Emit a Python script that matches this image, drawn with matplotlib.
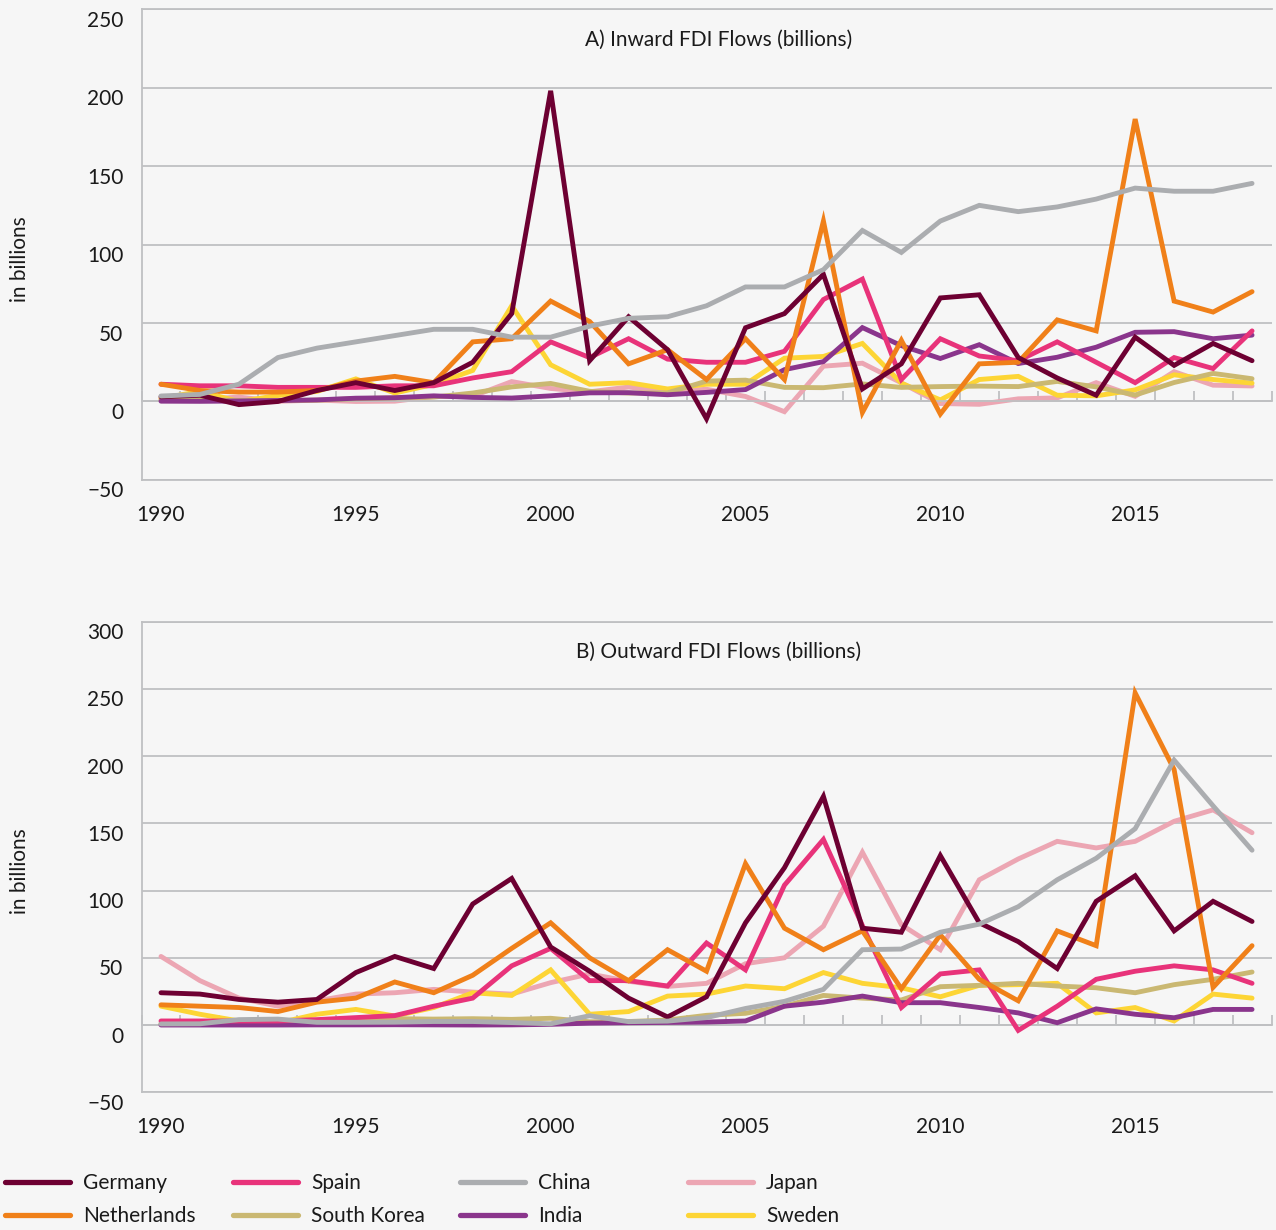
import matplotlib.pyplot as plt
import matplotlib.transforms as mtransforms
import numpy as np

plt.rcParams['font.family'] = ['Lato', 'DejaVu Sans']
plt.rcParams['font.size'] = 15
plt.rcParams['text.color'] = '#1a1a1a'
plt.rcParams['axes.labelcolor'] = '#1a1a1a'
plt.rcParams['xtick.color'] = '#1a1a1a'
plt.rcParams['ytick.color'] = '#1a1a1a'

years = np.arange(1990, 2019)
countries = ['Germany', 'Netherlands', 'Spain', 'South Korea', 'China', 'India', 'Japan', 'Sweden']

# A) inward FDI flows, billions
germany_in = [3, 4, -2, 0, 7, 12, 7, 12, 25, 56, 198, 26, 54, 33, -11, 47, 56, 81, 8, 24, 66, 68, 28, 15, 4, 41, 23, 37, 26]
netherlands_in = [11, 7, 6, 6, 7, 13, 16, 12, 38, 40, 64, 51, 24, 33, 14, 40, 14, 115, -7, 39, -8, 24, 25, 52, 45, 180, 64, 57, 70]
spain_in = [11, 10, 10, 9, 9, 9, 10, 10, 15, 19, 38, 28, 40, 27, 25, 25, 32, 65, 78, 14, 40, 29, 26, 38, 25, 12, 28, 21, 45]
skorea_in = [0.8, 1.2, 0.7, 0.6, 0.8, 1.8, 2.3, 2.8, 5.4, 9.3, 11.5, 6.5, 5.4, 5.5, 13.0, 13.6, 9.0, 8.8, 11.2, 9.0, 9.5, 9.8, 9.5, 12.8, 9.3, 4.1, 12.1, 17.9, 14.5]
china_in = [3.5, 4.5, 11, 28, 34, 38, 42, 46, 46, 41, 41, 48, 53, 54, 61, 73, 73, 84, 109, 95, 115, 125, 121, 124, 129, 136, 134, 134, 139]
india_in = [0.2, 0.1, 0.3, 0.6, 1.0, 2.1, 2.4, 3.6, 2.6, 2.2, 3.6, 5.5, 5.6, 4.3, 5.8, 7.6, 20.3, 25.4, 47.1, 35.6, 27.4, 36.2, 24.2, 28.2, 34.6, 44.1, 44.5, 40.0, 42.3]
japan_in = [1.8, 1.3, 2.8, 0.1, 0.9, 0.0, 0.2, 3.2, 3.3, 12.7, 8.3, 6.2, 9.2, 6.3, 7.8, 3.2, -6.5, 22.5, 24.4, 11.9, -1.3, -1.8, 1.7, 2.3, 12.0, 3.3, 19.0, 10.4, 9.9]
sweden_in = [2.0, 6.4, 0.0, 3.8, 6.4, 14.4, 5.4, 10.9, 19.8, 61.0, 23.4, 11.0, 12.0, 8.0, 11.0, 11.0, 27.6, 28.7, 37.0, 11.7, 1.0, 14.0, 16.0, 4.0, 3.6, 7.4, 17.0, 14.0, 11.7]

# B) outward FDI flows, billions
germany_out = [24, 23, 19, 17, 19, 39, 51, 42, 90, 109, 58, 40, 20, 6, 21, 76, 117, 170, 72, 69, 126, 76, 62, 42, 92, 111, 70, 92, 77]
netherlands_out = [15, 14, 13, 10, 17, 20, 32, 24, 37, 57, 76, 50, 33, 56, 40, 120, 72, 56, 70, 27, 67, 34, 18, 70, 59, 247, 190, 28, 59]
spain_out = [3, 3, 3, 3, 4, 5.5, 7, 14, 20, 44, 57, 33, 33, 29, 61, 41, 104, 138, 74, 13, 38, 41, -4, 14, 34, 40, 44, 41, 31]
skorea_out = [1.1, 1.5, 1.2, 1.3, 2.5, 3.6, 4.7, 4.4, 4.7, 4.2, 5.0, 2.4, 2.6, 3.7, 7.2, 8.7, 14, 22, 20, 18.6, 28.5, 29.5, 31, 29, 27.7, 24, 30, 34, 39.4]
china_out = [0.8, 0.9, 4.0, 4.4, 2.0, 2.0, 2.1, 2.6, 2.6, 1.8, 0.9, 6.9, 2.5, 2.9, 5.5, 12.3, 17.6, 26.5, 56, 56.5, 69, 75, 88, 108, 124, 146, 197, 163, 130]
india_out = [0.0, 0.0, 0.0, 0.0, 0.1, 0.1, 0.2, 0.1, 0.0, 0.1, 0.5, 1.4, 1.7, 1.9, 2.2, 3.0, 14, 17, 21.5, 16.6, 16.6, 13, 9, 1.7, 12, 8, 5.4, 11.6, 11.6]
japan_out = [51, 33, 20, 14, 18, 23, 24, 26.5, 24.5, 23, 31.5, 38, 32.5, 28.7, 31, 45.6, 50, 73.5, 128.5, 74.6, 56, 108, 123.5, 136.6, 131.7, 136.6, 151.5, 160, 143]
sweden_out = [14, 8, 3, 1.5, 8, 11.6, 6.7, 13, 24, 22, 41, 8, 10, 21.5, 23, 29, 27, 39, 31, 27.7, 21, 29.5, 30, 31, 9, 13, 3, 23, 20]

inward = [germany_in, netherlands_in, spain_in, skorea_in, china_in, india_in, japan_in, sweden_in]
outward = [germany_out, netherlands_out, spain_out, skorea_out, china_out, india_out, japan_out, sweden_out]

colors = ['#6d0032', '#f08019', '#e8337a', '#cab872', '#abadb0', '#8a358c', '#eca6b3', '#fdd535']
zorders = [7, 6, 5, 3, 8, 4, 1, 2]

BG = '#f6f6f6'
GRID = '#bfc0c2'


def draw_panel(ax, series, ymin, ymax, title):
    ax.set_facecolor(BG)
    lines = []
    for name, vals, c, z in zip(countries, series, colors, zorders):
        ln, = ax.plot(years, vals, color=c, lw=3.5, label=name, zorder=z,
                      solid_capstyle='round', solid_joinstyle='miter')
        lines.append(ln)

    ax.set_xlim(1989.5, 2018.5)
    ax.set_ylim(ymin, ymax)
    ax.set_yticks(np.arange(ymin, ymax + 1, 50))
    ax.yaxis.grid(True, color=GRID, lw=1.3)
    ax.set_axisbelow(True)

    ax.spines['right'].set_visible(False)
    for s in ['top', 'left', 'bottom']:
        ax.spines[s].set_color(GRID)
        ax.spines[s].set_linewidth(1.3)
    # category axis crosses at zero, ticks between the years
    ax.spines['bottom'].set_position(('data', 0))
    ax.set_xticks(np.arange(1989.5, 2019, 1))
    ax.tick_params(axis='x', direction='in', length=7, width=1.3, color=GRID, labelbottom=False)
    ax.tick_params(axis='y', length=0, pad=13)
    # value labels sit a little below their gridlines
    shift = mtransforms.ScaledTranslation(0, -0.095, fig.dpi_scale_trans)
    for lbl in ax.get_yticklabels():
        lbl.set_transform(lbl.get_transform() + shift)

    sec = ax.secondary_xaxis('bottom')
    sec.set_xticks(years[::5])
    sec.tick_params(length=0, pad=18)
    sec.spines['bottom'].set_color(GRID)
    sec.spines['bottom'].set_linewidth(1.3)

    ax.text(0.511, 0.935, title, transform=ax.transAxes, ha='center', va='center', fontsize=15)
    ax.set_ylabel('in billions')
    ax.yaxis.set_label_coords(-0.0987, 0.47)
    return lines


fig = plt.figure(figsize=(12.76, 12.3), dpi=100, facecolor=BG)
ax_in = fig.add_axes([0.1109, 0.6098, 0.8856, 0.3827])
ax_out = fig.add_axes([0.1109, 0.1120, 0.8856, 0.3826])

handles = draw_panel(ax_in, inward, -50, 250, 'A) Inward FDI Flows (billions)')
draw_panel(ax_out, outward, -50, 300, 'B) Outward FDI Flows (billions)')

# legend in four fixed-width columns
col_x = [5, 233, 460, 688]
for i, x in enumerate(col_x):
    leg = fig.legend(handles[2 * i:2 * i + 2], countries[2 * i:2 * i + 2], loc='upper left',
                     bbox_to_anchor=(x / 1276, 0.0465), frameon=False, handlelength=3.1,
                     handletextpad=0.65, borderaxespad=0, borderpad=0, labelspacing=0.65)
    for h in leg.get_lines():
        h.set_linewidth(3.8)

fig.savefig('out.png', dpi=100, facecolor=BG)
